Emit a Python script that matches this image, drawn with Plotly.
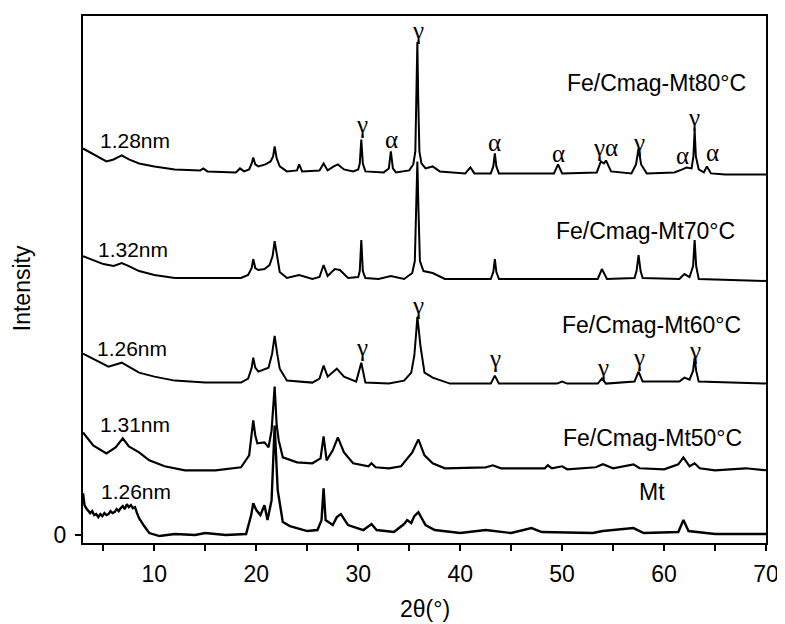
import plotly.graph_objects as go

# ---------------- data (2theta in degrees, stacked intensity, arbitrary units) ----------------
x_80 = [3.0, 4.0, 5.3, 6.0, 6.8, 7.5, 8.5, 10, 12, 14.5, 14.8, 15.2, 18.0, 18.4, 18.8, 19.3, 19.55, 19.7, 19.9, 20.2,
        20.9, 21.4, 21.65, 21.8, 22.0, 22.3, 23.0, 24.0, 24.2, 24.5, 26.2, 26.6, 27.0, 27.6, 28.0, 28.6, 29.5, 30.0,
        30.15, 30.3, 30.45, 30.7, 32.5, 33.0, 33.2, 33.4, 33.7, 35.0, 35.4, 35.6, 35.72, 35.8, 35.88, 36.0, 36.2, 36.6,
        37.3, 38.0, 40.5, 41.0, 41.4, 43.0, 43.25, 43.4, 43.55, 43.8, 49.2, 49.6, 50.0, 53.4, 53.8, 54.1, 54.3, 54.8,
        56.8, 57.25, 57.5, 57.75, 58.3, 61.0, 61.8, 62.2, 62.7, 62.88, 63.0, 63.12, 63.4, 63.9, 64.2, 64.6, 66, 70]
y_80 = [388, 382, 375, 377, 381, 377, 373, 370, 367, 366, 368, 365, 364, 368, 365, 367, 373, 379, 372, 370,
        372, 375, 380, 390, 378, 370, 365, 366, 372, 365, 366, 373, 366, 370, 372, 367, 365, 367,
        373, 397, 373, 365, 364, 368, 385, 368, 364, 366, 372, 385, 440, 495, 440, 385, 373, 368,
        370, 365, 363, 369, 363, 363, 370, 383, 370, 363, 363, 372, 363, 364, 375, 373, 376, 365,
        363, 372, 388, 372, 363, 364, 367, 369, 368, 380, 406, 380, 367, 364, 370, 363, 362, 362]

x_70 = [3.0, 4.0, 5.0, 6.0, 6.8, 7.5, 8.5, 10, 12, 15, 18.5, 19.2, 19.55, 19.7, 19.9, 20.2, 20.8, 21.3, 21.6, 21.8,
        22.0, 22.3, 23.0, 24.2, 25.5, 26.2, 26.6, 27.0, 27.7, 28.2, 29.0, 30.0, 30.15, 30.3, 30.45, 30.7, 32.0, 33.2,
        34.5, 35.3, 35.55, 35.7, 35.8, 35.9, 36.05, 36.4, 37.3, 38.5, 43.0, 43.25, 43.4, 43.55, 43.8, 53.5, 53.9, 54.4,
        57.1, 57.3, 57.5, 57.7, 57.9, 61.5, 62.0, 62.5, 62.85, 63.0, 63.15, 63.4, 70]
y_70 = [280, 276, 272, 270, 273, 270, 265, 261, 258, 258, 258, 261, 268, 277, 268, 266, 267, 271, 280, 295,
        281, 264, 258, 261, 257, 259, 271, 260, 267, 266, 258, 259, 265, 296, 265, 258, 257, 260,
        257, 263, 275, 330, 375, 330, 275, 265, 263, 257, 257, 264, 277, 264, 257, 257, 267, 257,
        258, 265, 281, 265, 258, 257, 262, 259, 270, 296, 270, 257, 255]

x_60 = [3.0, 4.0, 5.5, 6.8, 7.5, 8.5, 10, 12, 15, 18.5, 19.2, 19.55, 19.7, 19.9, 20.2, 20.8, 21.2, 21.55, 21.8, 22.05,
        22.3, 23.0, 25.5, 26.2, 26.6, 27.0, 27.9, 28.6, 29.8, 30.3, 30.7, 33.0, 34.5, 35.2, 35.5, 35.7, 35.8, 35.95,
        36.1, 36.5, 37.3, 39, 43.0, 43.4, 43.8, 49.5, 50.0, 50.5, 53.5, 53.9, 54.3, 57.1, 57.5, 57.9, 61.5, 62.0, 62.5,
        62.85, 63.0, 63.15, 63.4, 70]
y_60 = [182, 177, 169, 173, 169, 163, 159, 155, 153, 153, 157, 168, 178, 168, 164, 166, 168, 182, 200, 182,
        167, 155, 153, 157, 170, 159, 167, 159, 154, 173, 153, 152, 155, 163, 180, 205, 219, 205,
        190, 163, 158, 152, 152, 160, 152, 152, 154, 152, 152, 157, 152, 154, 164, 154, 154, 158, 156,
        165, 178, 165, 154, 152]

x_50 = [3.0, 4.0, 5.3, 6.2, 6.9, 7.5, 8.5, 9.5, 11, 13, 16, 18.5, 19.3, 19.55, 19.7, 19.9, 20.1, 20.8, 21.2, 21.5,
        21.8, 22.0, 22.2, 22.6, 24.0, 25.5, 26.3, 26.6, 26.9, 27.5, 28.0, 28.6, 29.5, 31.0, 31.3, 31.7, 33.0, 34.2,
        34.8, 35.3, 35.9, 36.5, 37.3, 38.5, 42.5, 43.2, 44.0, 48.3, 48.6, 49.0, 50.0, 50.5, 53.3, 54.0, 55, 57.0, 57.6,
        60, 61.4, 61.9, 62.5, 63.0, 63.5, 65, 68, 70]
y_50 = [103, 90, 82, 88, 97, 89, 83, 75, 69, 65, 65, 68, 80, 100, 115, 100, 92, 93, 88, 105,
        149, 110, 95, 78, 73, 72, 77, 99, 75, 85, 98, 83, 72, 69, 72, 68, 67, 69,
        77, 83, 96, 80, 72, 67, 68, 70, 67, 67, 70, 67, 69, 66, 68, 71, 67, 71, 67,
        66, 71, 78, 69, 72, 67, 65, 67, 65]

x_mt = [3.0, 3.15, 3.3, 3.5, 3.7, 3.9, 4.1, 4.3, 4.5, 4.7, 4.9, 5.1, 5.3, 5.5, 5.7, 5.9, 6.1, 6.3, 6.5, 6.7, 6.9,
        7.1, 7.3, 7.5, 7.7, 7.9, 8.1, 8.3, 8.5, 9.0, 9.5, 10.5, 12, 14, 15, 17, 19.0, 19.5, 19.7, 20.0, 20.4, 20.8,
        21.1, 21.5, 21.8, 22.1, 22.6, 23.3, 24, 25, 26.0, 26.4, 26.6, 26.8, 27.5, 27.9, 28.3, 28.7, 29.0, 30.5, 31.3,
        31.8, 33.5, 34.5, 34.8, 35.2, 35.5, 35.9, 36.6, 37.5, 40, 42.5, 45, 47, 48, 53, 54, 57, 58, 61.4, 61.9, 62.4,
        65, 70]
y_mt = [42, 30, 27, 24, 22, 24, 20, 21, 18, 21, 19, 22, 20, 21, 24, 22, 23, 26, 24, 27, 29,
        26, 31, 28, 30, 27, 28, 22, 17, 9, 2, -1, 1, 0, 2, 0, 1, 20, 32, 25, 20, 30,
        15, 35, 110, 45, 13, 9, 7, 4, 5, 15, 47, 15, 10, 18, 21, 14, 10, 5, 11,
        5, 3, 11, 15, 12, 19, 23, 10, 5, 2, 5, 2, 7, 3, 2, 4, 7, 2, 3, 15, 4,
        1, 1]

sample_names = ["Fe/Cmag-Mt80°C", "Fe/Cmag-Mt70°C", "Fe/Cmag-Mt60°C", "Fe/Cmag-Mt50°C", "Mt"]
sample_name_x = [59.25, 58.2, 58.8, 58.9, 58.8]
sample_name_y = [454, 305, 211, 97, 43]

spacing_labels = ["1.28nm", "1.32nm", "1.26nm", "1.31nm", "1.26nm"]
spacing_x = [8.1, 7.9, 7.8, 8.1, 8.2]
spacing_y = [396, 287, 187, 111, 44]

phase_labels = ["γ", "α", "γ", "α", "α", "γα", "γ", "α", "γ", "α",
                "γ", "γ", "γ", "γ", "γ", "γ"]
phase_x = [30.34, 33.27, 35.9, 43.4, 49.6, 54.27, 57.5, 61.8, 62.96, 64.8,
           30.34, 35.9, 43.4, 53.98, 57.5, 63.05]
phase_y = [412, 397, 506, 394, 383, 389, 394, 381, 419, 384,
           188, 230, 177, 168, 178, 185]

x_ticks = [10, 20, 30, 40, 50, 60, 70]
y_ticks = [0]

# ---------------- figure ----------------
SANS = "Liberation Sans, Arial, Helvetica, sans-serif"
SERIF = "Liberation Serif, Times New Roman, serif"

fig = go.Figure()
series = [(x_80, y_80, 2.0), (x_70, y_70, 2.0), (x_60, y_60, 2.0), (x_50, y_50, 2.2), (x_mt, y_mt, 2.4)]
for xs, ys, w in series:
    fig.add_trace(go.Scatter(x=xs, y=ys, mode="lines",
                             line=dict(color="black", width=w), showlegend=False, hoverinfo="skip"))

ann = []
for t, xv, yv in zip(sample_names, sample_name_x, sample_name_y):
    ann.append(dict(x=xv, y=yv, xref="x", yref="y", text=t, showarrow=False,
                    font=dict(family=SANS, size=23, color="black"), xanchor="center", yanchor="middle"))
for t, xv, yv in zip(spacing_labels, spacing_x, spacing_y):
    ann.append(dict(x=xv, y=yv, xref="x", yref="y", text=t, showarrow=False,
                    font=dict(family=SANS, size=21, color="black"), xanchor="center", yanchor="middle"))
for t, xv, yv in zip(phase_labels, phase_x, phase_y):
    ann.append(dict(x=xv, y=yv, xref="x", yref="y", text=t, showarrow=False,
                    font=dict(family=SERIF, size=25, color="black"), xanchor="center", yanchor="middle"))
ann.append(dict(x=-0.0889, y=0.484, xref="paper", yref="paper", text="Intensity", textangle=-90,
                showarrow=False, font=dict(family=SANS, size=23, color="black"),
                xanchor="center", yanchor="middle"))
ann.append(dict(x=0.5, y=-0.1248, xref="paper", yref="paper", text="2θ(°)",
                showarrow=False, font=dict(family=SANS, size=23, color="black"),
                xanchor="center", yanchor="middle"))

# page body has an 8px margin; size the figure so the plot frame lands where the reference has it
fig.update_layout(
    width=777, height=616,
    margin=dict(l=75, r=16, t=6, b=81),
    paper_bgcolor="white", plot_bgcolor="white",
    annotations=ann,
    xaxis=dict(range=[3, 70], tickvals=x_ticks, ticks="outside", ticklen=6, tickwidth=1.5,
               tickcolor="black", showline=True, linecolor="black", linewidth=2, mirror=True,
               showgrid=False, zeroline=False,
               tickfont=dict(family=SANS, size=23, color="black"), ticklabelstandoff=3,
               minor=dict(dtick=5, tick0=0, ticks="outside", ticklen=6, tickwidth=1.5, tickcolor="black",
                          showgrid=False)),
    yaxis=dict(range=[-8, 521], tickvals=y_ticks, ticks="outside", ticklen=6, tickwidth=1.5,
               tickcolor="black", showline=True, linecolor="black", linewidth=2, mirror=True,
               showgrid=False, zeroline=False,
               tickfont=dict(family=SANS, size=23, color="black"), ticklabelstandoff=4),
)

fig.write_html("out.html")
